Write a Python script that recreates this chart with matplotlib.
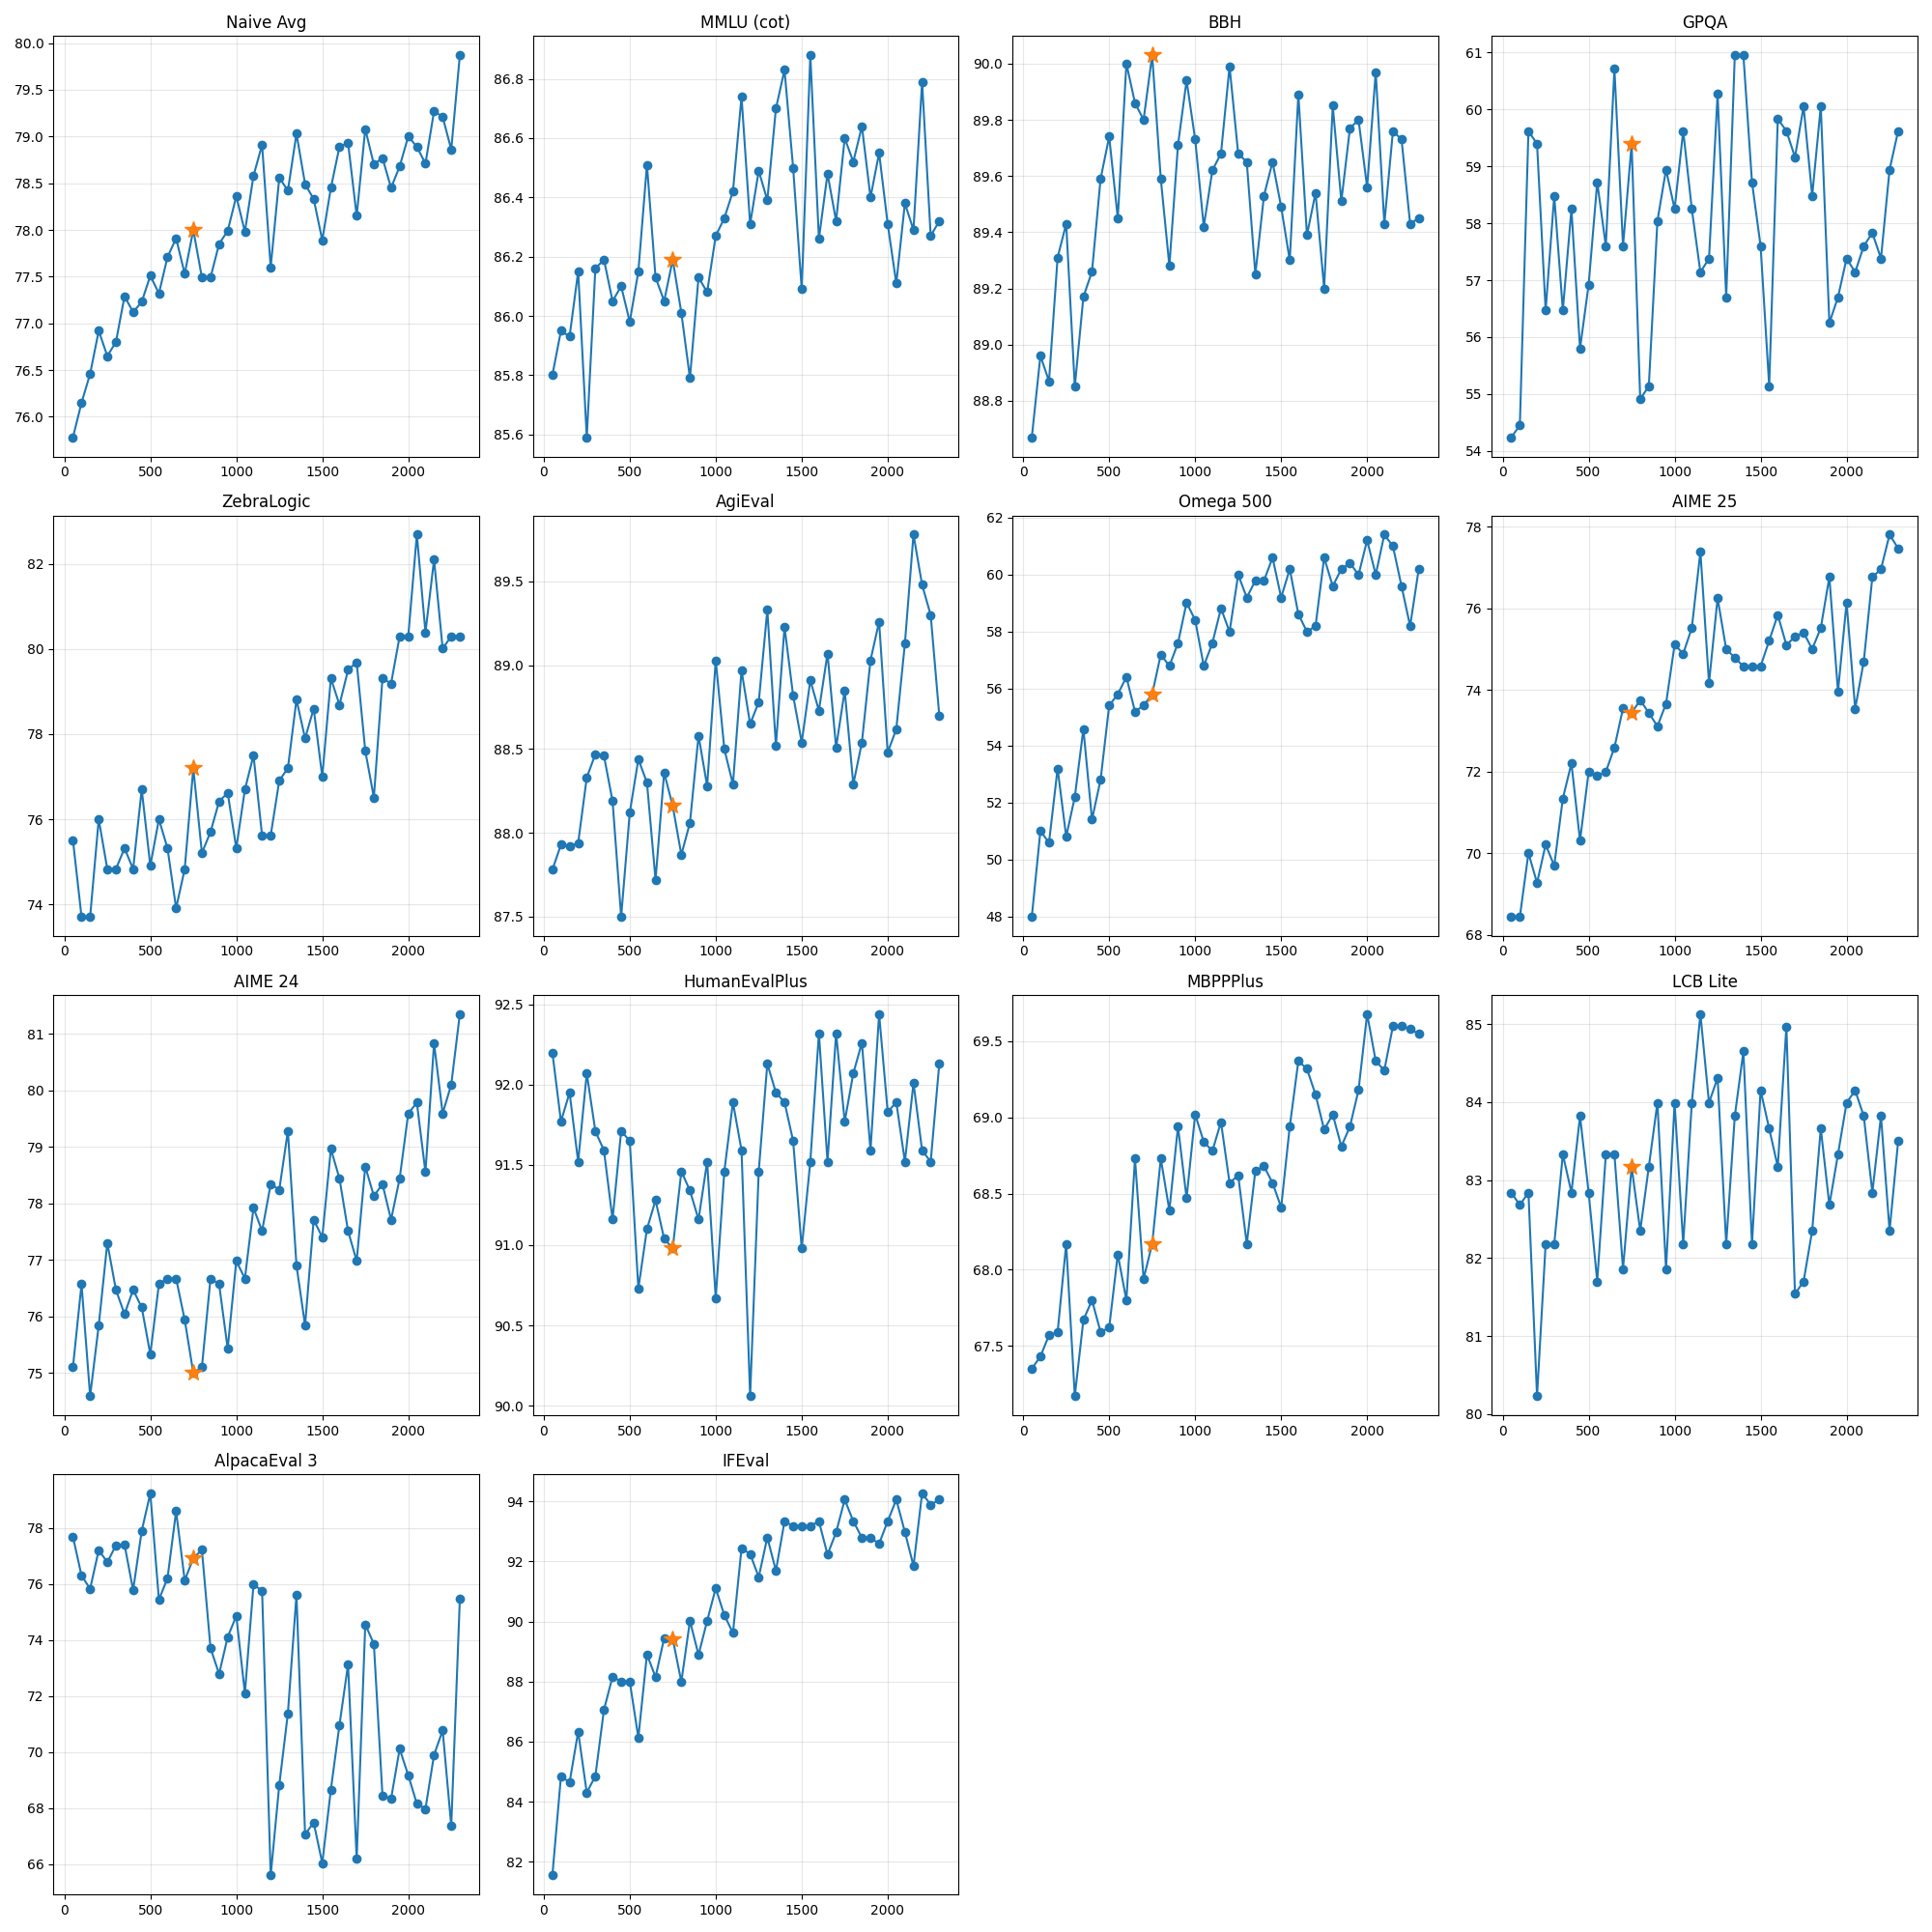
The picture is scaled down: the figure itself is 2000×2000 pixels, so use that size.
import numpy as np
import matplotlib
matplotlib.use("Agg")
import matplotlib.pyplot as plt

steps = list(range(50, 2301, 50))
highlight_step = 750

titles = ["Naive Avg", "MMLU (cot)", "BBH", "GPQA", "ZebraLogic", "AgiEval",
          "Omega 500", "AIME 25", "AIME 24", "HumanEvalPlus", "MBPPPlus",
          "LCB Lite", "AlpacaEval 3", "IFEval"]

naive_avg = [75.78, 76.15, 76.46, 76.92, 76.65, 76.80, 77.29, 77.12, 77.23, 77.51,
             77.32, 77.71, 77.91, 77.53, 78.00, 77.49, 77.49, 77.85, 77.99, 78.36,
             77.98, 78.58, 78.91, 77.60, 78.56, 78.42, 79.03, 78.49, 78.33, 77.89,
             78.45, 78.89, 78.93, 78.15, 79.08, 78.70, 78.77, 78.45, 78.68, 79.00,
             78.89, 78.71, 79.27, 79.21, 78.86, 79.87]
mmlu_cot = [85.80, 85.95, 85.93, 86.15, 85.59, 86.16, 86.19, 86.05, 86.10, 85.98,
            86.15, 86.51, 86.13, 86.05, 86.19, 86.01, 85.79, 86.13, 86.08, 86.27,
            86.33, 86.42, 86.74, 86.31, 86.49, 86.39, 86.70, 86.83, 86.50, 86.09,
            86.88, 86.26, 86.48, 86.32, 86.60, 86.52, 86.64, 86.40, 86.55, 86.31,
            86.11, 86.38, 86.29, 86.79, 86.27, 86.32]
bbh = [88.67, 88.96, 88.87, 89.31, 89.43, 88.85, 89.17, 89.26, 89.59, 89.74,
       89.45, 90.00, 89.86, 89.80, 90.03, 89.59, 89.28, 89.71, 89.94, 89.73,
       89.42, 89.62, 89.68, 89.99, 89.68, 89.65, 89.25, 89.53, 89.65, 89.49,
       89.30, 89.89, 89.39, 89.54, 89.20, 89.85, 89.51, 89.77, 89.80, 89.56,
       89.97, 89.43, 89.76, 89.73, 89.43, 89.45]
gpqa = [54.24, 54.45, 59.62, 59.39, 56.47, 58.48, 56.47, 58.25, 55.80, 56.92,
        58.72, 57.60, 60.71, 57.60, 59.39, 54.91, 55.14, 58.04, 58.94, 58.25,
        59.62, 58.25, 57.14, 57.38, 60.27, 56.70, 60.95, 60.95, 58.72, 57.60,
        55.14, 59.83, 59.62, 59.16, 60.05, 58.48, 60.05, 56.25, 56.70, 57.38,
        57.14, 57.60, 57.83, 57.38, 58.94, 59.62]
zebralogic = [75.51, 73.71, 73.71, 76.00, 74.83, 74.83, 75.32, 74.83, 76.70, 74.91,
              76.00, 75.32, 73.91, 74.83, 77.20, 75.21, 75.70, 76.42, 76.62, 75.32,
              76.70, 77.50, 75.62, 75.62, 76.91, 77.20, 78.81, 77.90, 78.60, 77.00,
              79.31, 78.69, 79.51, 79.69, 77.61, 76.51, 79.31, 79.19, 80.30, 80.30,
              82.69, 80.39, 82.10, 80.01, 80.30, 80.30]
agieval = [87.78, 87.93, 87.92, 87.94, 88.33, 88.47, 88.46, 88.19, 87.50, 88.12,
           88.44, 88.30, 87.72, 88.36, 88.16, 87.87, 88.06, 88.58, 88.28, 89.03,
           88.50, 88.29, 88.97, 88.65, 88.78, 89.33, 88.52, 89.23, 88.82, 88.54,
           88.91, 88.73, 89.07, 88.51, 88.85, 88.29, 88.54, 89.03, 89.26, 88.48,
           88.62, 89.13, 89.78, 89.48, 89.30, 88.70]
omega500 = [48.00, 51.01, 50.60, 53.20, 50.81, 52.20, 54.59, 51.41, 52.81, 55.41,
            55.81, 56.41, 55.20, 55.41, 55.81, 57.20, 56.80, 57.60, 59.02, 58.41,
            56.80, 57.60, 58.82, 58.00, 60.00, 59.20, 59.79, 59.79, 60.60, 59.20,
            60.20, 58.62, 58.00, 58.20, 60.60, 59.60, 60.20, 60.41, 60.00, 61.21,
            60.00, 61.41, 61.00, 59.60, 58.20, 60.20]
aime25 = [68.44, 68.44, 70.00, 69.27, 70.21, 69.69, 71.34, 72.20, 70.31, 71.99,
          71.89, 71.99, 72.59, 73.55, 73.44, 73.75, 73.44, 73.11, 73.66, 75.11,
          74.89, 75.52, 77.39, 74.17, 76.25, 75.00, 74.79, 74.58, 74.58, 74.58,
          75.21, 75.84, 75.10, 75.31, 75.41, 75.00, 75.52, 76.77, 73.96, 76.14,
          73.54, 74.70, 76.77, 76.96, 77.81, 77.47]
aime24 = [75.10, 76.57, 74.59, 75.84, 77.30, 76.47, 76.04, 76.47, 76.16, 75.33,
          76.57, 76.67, 76.67, 75.94, 75.00, 75.10, 76.67, 76.57, 75.43, 76.98,
          76.67, 77.92, 77.51, 78.34, 78.24, 79.28, 76.90, 75.84, 77.71, 77.40,
          78.96, 78.44, 77.51, 76.98, 78.65, 78.13, 78.34, 77.71, 78.44, 79.59,
          79.78, 78.55, 80.83, 79.59, 80.10, 81.35]
humanevalplus = [92.20, 91.77, 91.95, 91.52, 92.07, 91.71, 91.59, 91.16, 91.71, 91.65,
                 90.73, 91.10, 91.28, 91.04, 90.98, 91.46, 91.34, 91.16, 91.52, 90.67,
                 91.46, 91.89, 91.59, 90.06, 91.46, 92.13, 91.95, 91.89, 91.65, 90.98,
                 91.52, 92.32, 91.52, 92.32, 91.77, 92.07, 92.26, 91.59, 92.44, 91.83,
                 91.89, 91.52, 92.01, 91.59, 91.52, 92.13]
mbppplus = [67.35, 67.43, 67.57, 67.59, 68.17, 67.17, 67.67, 67.80, 67.59, 67.62,
            68.10, 67.80, 68.73, 67.94, 68.17, 68.73, 68.39, 68.94, 68.47, 69.02,
            68.84, 68.78, 68.97, 68.57, 68.62, 68.17, 68.65, 68.68, 68.57, 68.41,
            68.94, 69.37, 69.32, 69.15, 68.92, 69.02, 68.81, 68.94, 69.18, 69.68,
            69.37, 69.31, 69.60, 69.60, 69.58, 69.55]
lcb_lite = [82.84, 82.68, 82.84, 80.23, 82.18, 82.18, 83.33, 82.84, 83.82, 82.84,
            81.70, 83.33, 83.33, 81.86, 83.17, 82.35, 83.17, 83.99, 81.86, 83.99,
            82.18, 83.99, 85.13, 83.99, 84.31, 82.18, 83.82, 84.65, 82.18, 84.15,
            83.66, 83.17, 84.97, 81.54, 81.70, 82.35, 83.66, 82.68, 83.33, 83.99,
            84.15, 83.82, 82.84, 83.82, 82.35, 83.50]
alpacaeval3 = [77.69, 76.30, 75.83, 77.21, 76.78, 77.38, 77.41, 75.78, 77.90, 79.24,
               75.44, 76.21, 78.60, 76.13, 76.92, 77.22, 73.71, 72.79, 74.11, 74.86,
               72.10, 75.98, 75.76, 65.59, 68.83, 71.38, 75.62, 67.06, 67.48, 66.03,
               68.66, 70.97, 73.13, 66.18, 74.56, 73.86, 68.45, 68.33, 70.11, 69.17,
               68.15, 67.97, 69.90, 70.77, 67.36, 75.48]
ifeval = [81.54, 84.85, 84.64, 86.33, 84.30, 84.85, 87.06, 88.16, 88.00, 88.00,
          86.13, 88.90, 88.15, 89.44, 89.42, 87.99, 90.02, 88.89, 90.02, 91.11,
          90.21, 89.62, 92.44, 92.25, 91.48, 92.80, 91.69, 93.34, 93.18, 93.18,
          93.18, 93.34, 92.23, 92.97, 94.06, 93.34, 92.79, 92.79, 92.59, 93.34,
          94.06, 92.98, 91.85, 94.27, 93.89, 94.06]

series = [naive_avg, mmlu_cot, bbh, gpqa, zebralogic, agieval, omega500, aime25,
          aime24, humanevalplus, mbppplus, lcb_lite, alpacaeval3, ifeval]

fig, axes = plt.subplots(4, 4, figsize=(20, 20), dpi=100)
axes = axes.flatten()
hi = steps.index(highlight_step)
for ax, title, vals in zip(axes, titles, series):
    ax.plot(steps, vals, marker="o", color="C0", linewidth=1.5, markersize=6)
    ax.plot([steps[hi]], [vals[hi]], marker="*", color="C1", markersize=13,
            linestyle="none", zorder=5)
    ax.set_title(title, fontsize=12)
    ax.grid(True, alpha=0.3)
for ax in axes[len(series):]:
    ax.remove()
fig.tight_layout()
fig.savefig("out.png", dpi=100)
